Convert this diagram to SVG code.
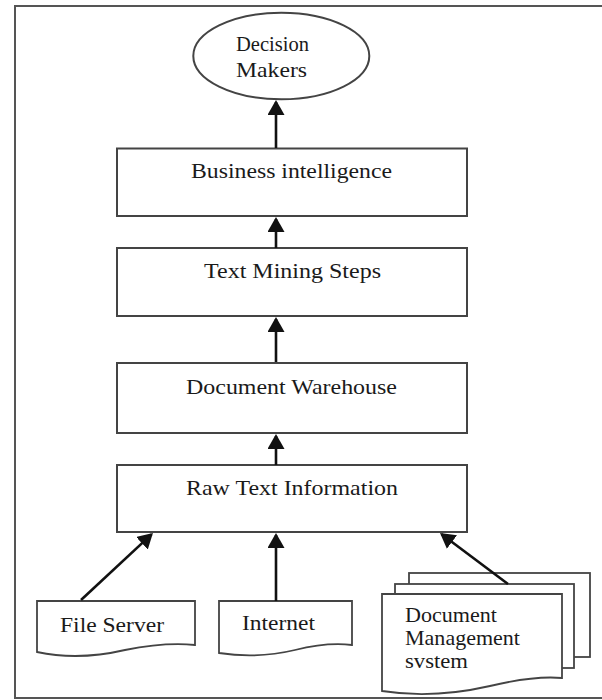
<svg xmlns="http://www.w3.org/2000/svg" width="602" height="700" viewBox="0 0 602 700">
<style>
.frame{fill:none;stroke:#555;stroke-width:2}
.box{fill:#fff;stroke:#444;stroke-width:2}
.doc{fill:#fff;stroke:#444;stroke-width:1.8}
.lbl{font-family:'Liberation Serif','DejaVu Serif',serif;font-size:22px;fill:#1a1a1a}
.conn{stroke:#111;stroke-width:2.6;fill:none;marker-end:url(#ah)}
</style>
<defs>
<marker id="ah" viewBox="0 0 15 17" refX="13" refY="8.5" markerWidth="15" markerHeight="17" markerUnits="userSpaceOnUse" orient="auto">
<path d="M0,0 L15,8.5 L0,17 Z" fill="#111"/>
</marker>
</defs>
<rect width="602" height="700" fill="#fff"/>
<path class="frame" d="M603,6 H15 V698 H603"/>

<g id="decision-makers">
<ellipse class="box" cx="281.3" cy="56" rx="88" ry="43.3" stroke-width="1.8"/>
<text class="lbl" x="236" y="50.7" textLength="73" lengthAdjust="spacingAndGlyphs">Decision</text>
<text class="lbl" x="236" y="77.3" textLength="71" lengthAdjust="spacingAndGlyphs">Makers</text>
</g>

<g id="business-intelligence">
<rect class="box" x="117" y="148.5" width="350" height="67.5"/>
<text class="lbl" x="191" y="178" textLength="201" lengthAdjust="spacingAndGlyphs">Business intelligence</text>
</g>

<g id="text-mining-steps">
<rect class="box" x="117" y="248" width="350" height="68"/>
<text class="lbl" x="204" y="278" textLength="177" lengthAdjust="spacingAndGlyphs">Text Mining Steps</text>
</g>

<g id="document-warehouse">
<rect class="box" x="117" y="363" width="350" height="70"/>
<text class="lbl" x="186" y="394" textLength="211" lengthAdjust="spacingAndGlyphs">Document Warehouse</text>
</g>

<g id="raw-text-information">
<rect class="box" x="117" y="465" width="350" height="67"/>
<text class="lbl" x="186" y="495" textLength="212" lengthAdjust="spacingAndGlyphs">Raw Text Information</text>
</g>

<g id="file-server">
<path class="doc" d="M37,601 H195 V645 C175,643 150,645 125,650 C95,657 65,658 37,652 Z"/>
<text class="lbl" x="60" y="632" textLength="104" lengthAdjust="spacingAndGlyphs">File Server</text>
</g>

<g id="internet">
<path class="doc" d="M219,601 H352 V645 C335,643 315,645 295,650 C270,656 245,657 219,653 Z"/>
<text class="lbl" x="242" y="630" textLength="73" lengthAdjust="spacingAndGlyphs">Internet</text>
</g>

<g id="document-management-system">
<rect class="doc" x="409" y="573" width="181" height="84"/>
<rect class="doc" x="395" y="584" width="179" height="84"/>
<path class="doc" d="M382,594 H562 V678 C540,676 515,680 490,686 C455,694 420,697 382,691 Z"/>
<text class="lbl" x="405" y="622" textLength="92" lengthAdjust="spacingAndGlyphs">Document</text>
<text class="lbl" x="405" y="645" textLength="115" lengthAdjust="spacingAndGlyphs">Management</text>
<text class="lbl" x="405" y="668" textLength="63" lengthAdjust="spacingAndGlyphs">svstem</text>
</g>

<g id="connectors">
<line class="conn" x1="276" y1="148" x2="276" y2="102"/>
<line class="conn" x1="276" y1="248" x2="276" y2="219"/>
<line class="conn" x1="276" y1="362" x2="276" y2="319"/>
<line class="conn" x1="276" y1="465" x2="276" y2="436"/>
<line class="conn" x1="276" y1="601" x2="276" y2="535"/>
<line class="conn" x1="81" y1="600" x2="151.5" y2="534.4"/>
<line class="conn" x1="508" y1="584" x2="441.6" y2="534.2"/>
</g>
</svg>
